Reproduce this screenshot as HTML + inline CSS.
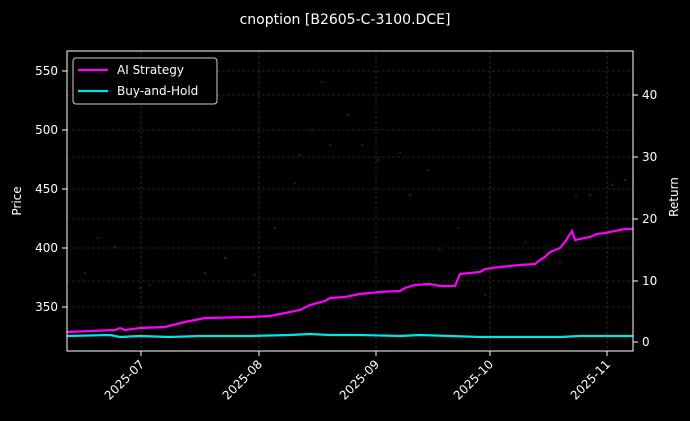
<!DOCTYPE html>
<html><head><style>body{margin:0;background:#000;}svg{display:block}</style></head><body>
<svg width="690" height="421" viewBox="0 0 690 421" xmlns="http://www.w3.org/2000/svg" font-family="DejaVu Sans, Liberation Sans, sans-serif">
<rect width="690" height="421" fill="#000"/>
<text x="345" y="24" fill="#fff" font-size="14" text-anchor="middle">cnoption [B2605-C-3100.DCE]</text>
<g stroke="#444" stroke-width="0.6" stroke-dasharray="3,2">
<line x1="141" y1="51" x2="141" y2="351"/><line x1="259" y1="51" x2="259" y2="351"/><line x1="376" y1="51" x2="376" y2="351"/><line x1="490" y1="51" x2="490" y2="351"/><line x1="607" y1="51" x2="607" y2="351"/>
<line x1="67" y1="71" x2="633" y2="71"/><line x1="67" y1="130" x2="633" y2="130"/><line x1="67" y1="189" x2="633" y2="189"/><line x1="67" y1="248" x2="633" y2="248"/><line x1="67" y1="307" x2="633" y2="307"/>
<line x1="67" y1="95" x2="633" y2="95"/><line x1="67" y1="157" x2="633" y2="157"/><line x1="67" y1="219" x2="633" y2="219"/><line x1="67" y1="281" x2="633" y2="281"/>
</g>
<g fill="#8b0000">
<circle cx="85" cy="273" r="1"/><circle cx="98" cy="238" r="1"/><circle cx="115" cy="247" r="1"/><circle cx="140" cy="288" r="1"/><circle cx="150" cy="285" r="1"/><circle cx="205" cy="273" r="1"/><circle cx="225" cy="258" r="1"/><circle cx="255" cy="275" r="1"/><circle cx="275" cy="228" r="1"/><circle cx="295" cy="183" r="1"/><circle cx="300" cy="155" r="1"/><circle cx="312" cy="130" r="1"/><circle cx="322" cy="82" r="1"/><circle cx="330" cy="145" r="1"/><circle cx="348" cy="115" r="1"/><circle cx="362" cy="145" r="1"/><circle cx="378" cy="160" r="1"/><circle cx="400" cy="153" r="1"/><circle cx="410" cy="195" r="1"/><circle cx="428" cy="170" r="1"/><circle cx="440" cy="250" r="1"/><circle cx="458" cy="228" r="1"/><circle cx="485" cy="295" r="1"/><circle cx="525" cy="242" r="1"/><circle cx="560" cy="262" r="1"/><circle cx="576" cy="195" r="1"/><circle cx="590" cy="195" r="1"/><circle cx="612" cy="185" r="1"/><circle cx="625" cy="180" r="1"/>
</g>
<polyline fill="none" stroke="#ff00ff" stroke-width="2.2" points="67,332 115,330 120,328 125,330 140,328 165,327 185,322 205,318 250,317 270,316 290,312 300,310 310,305 325,301 330,298 345,297 360,294 380,292 400,291 405,288 415,285 430,284 440,286 455,286 460,274 480,272 485,269 500,267 520,265 535,264 540,260 545,257 550,252 560,248 565,242 572,231 575,240 590,237 597,234 605,233 615,231 625,229 633,229"/>
<polyline fill="none" stroke="#00e5e5" stroke-width="2.2" points="67,336 110,335 120,337 140,336 170,337 200,336 250,336 290,335 310,334 330,335 360,335 400,336 420,335 450,336 480,337 520,337 560,337 580,336 633,336"/>
<rect x="67" y="51" width="566" height="300" fill="none" stroke="#fff" stroke-width="1"/>
<g stroke="#fff" stroke-width="1">
<line x1="62" y1="71" x2="67" y2="71"/><line x1="62" y1="130" x2="67" y2="130"/><line x1="62" y1="189" x2="67" y2="189"/><line x1="62" y1="248" x2="67" y2="248"/><line x1="62" y1="307" x2="67" y2="307"/>
<line x1="633" y1="95" x2="638" y2="95"/><line x1="633" y1="157" x2="638" y2="157"/><line x1="633" y1="219" x2="638" y2="219"/><line x1="633" y1="281" x2="638" y2="281"/><line x1="633" y1="342" x2="638" y2="342"/>
<line x1="141" y1="351" x2="141" y2="356"/><line x1="259" y1="351" x2="259" y2="356"/><line x1="376" y1="351" x2="376" y2="356"/><line x1="490" y1="351" x2="490" y2="356"/><line x1="607" y1="351" x2="607" y2="356"/>
</g>
<g fill="#fff" font-size="12" text-anchor="end">
<text x="58" y="75">550</text><text x="58" y="134">500</text><text x="58" y="193">450</text><text x="58" y="252">400</text><text x="58" y="311">350</text>
</g>
<g fill="#fff" font-size="12">
<text x="642" y="99">40</text><text x="642" y="161">30</text><text x="642" y="223">20</text><text x="642" y="285">10</text><text x="642" y="346">0</text>
</g>
<g fill="#fff" font-size="12" text-anchor="end">
<text transform="translate(145,365) rotate(-45)">2025-07</text>
<text transform="translate(263,365) rotate(-45)">2025-08</text>
<text transform="translate(380,365) rotate(-45)">2025-09</text>
<text transform="translate(494,365) rotate(-45)">2025-10</text>
<text transform="translate(611,365) rotate(-45)">2025-11</text>
</g>
<text transform="translate(21,201) rotate(-90)" fill="#fff" font-size="12" text-anchor="middle">Price</text>
<text transform="translate(678,197) rotate(-90)" fill="#fff" font-size="12" text-anchor="middle">Return</text>
<rect x="73" y="58" width="144" height="46" rx="3" fill="#000" stroke="#ccc" stroke-width="1"/>
<line x1="78" y1="70" x2="108" y2="70" stroke="#ff00ff" stroke-width="2.2"/>
<line x1="78" y1="91" x2="108" y2="91" stroke="#00e5e5" stroke-width="2.2"/>
<text x="117" y="74" fill="#fff" font-size="12">AI Strategy</text>
<text x="117" y="95" fill="#fff" font-size="12">Buy-and-Hold</text>
</svg>
</body></html>
